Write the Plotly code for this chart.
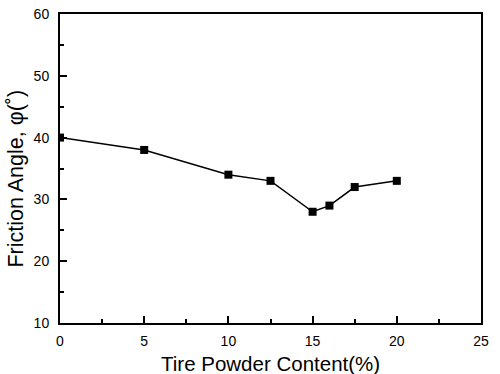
import plotly.graph_objects as go

tire_powder = [0, 5, 10, 12.5, 15, 16, 17.5, 20]
friction_angle = [40, 38, 34, 33, 28, 29, 32, 33]

x_title = "Tire Powder Content(%)"
y_title = "Friction Angle, φ(˚)"

fig = go.Figure()
fig.add_trace(go.Scatter(
    x=tire_powder, y=friction_angle, mode="lines+markers",
    line=dict(color="black", width=1.5),
    marker=dict(symbol="square", size=8, color="black"),
    showlegend=False,
))

font_family = "Liberation Sans, Arial"
axis_common = dict(
    showline=True, linecolor="black", linewidth=2, mirror=True,
    ticks="inside", ticklen=7, tickwidth=1.5, tickcolor="black",
    showgrid=False, zeroline=False, automargin=False,
    tickfont=dict(family=font_family, size=14, color="black"),
)

fig.update_layout(
    width=500, height=374,
    margin=dict(l=60, r=19, t=14, b=51, autoexpand=False),
    paper_bgcolor="white", plot_bgcolor="white",
    xaxis=dict(
        range=[0, 25], dtick=5, ticklabelstandoff=4,
        minor=dict(ticks="inside", ticklen=4, tickwidth=1.5, tickcolor="black", dtick=2.5),
        **axis_common,
    ),
    yaxis=dict(
        range=[10, 60], dtick=10, ticklabelstandoff=6,
        minor=dict(ticks="inside", ticklen=4, tickwidth=1.5, tickcolor="black", dtick=5),
        **axis_common,
    ),
    annotations=[
        dict(text=x_title, xref="paper", yref="paper", x=0.5, y=0,
             xanchor="center", yanchor="middle", yshift=-40, showarrow=False,
             font=dict(family=font_family, size=20.5, color="black")),
        dict(text=y_title, xref="paper", yref="paper", x=0, y=0.4676,
             xanchor="center", yanchor="middle", xshift=-44, textangle=-90,
             showarrow=False,
             font=dict(family=font_family, size=21.5, color="black")),
    ],
)

fig.write_html("out.html", config={"displayModeBar": False},
               post_script="document.body.style.margin='0';")
